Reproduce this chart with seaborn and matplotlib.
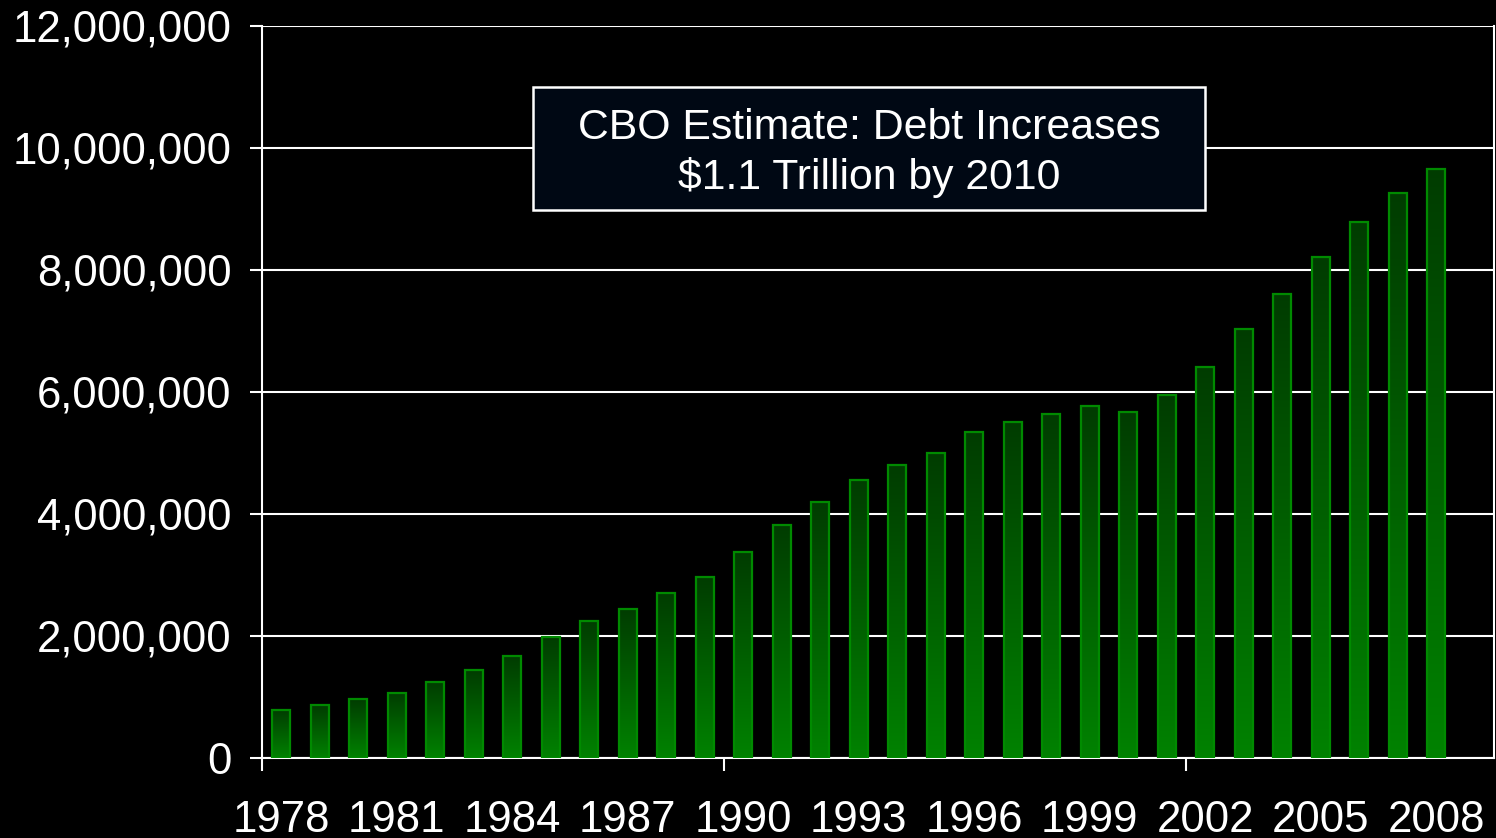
import numpy as np
import pandas as pd
import matplotlib
matplotlib.use("Agg")
import matplotlib.pyplot as plt
import seaborn as sns
from matplotlib.colors import LinearSegmentedColormap
from matplotlib.patches import Rectangle
from matplotlib.ticker import FuncFormatter, FixedLocator

# Gross federal debt by year
years = list(range(1978, 2009))
debt = [
    790000, 864000, 967000, 1066000, 1246000, 1437000, 1672000, 1989000,
    2246000, 2443000, 2705000, 2967000, 3377000, 3820000, 4197000, 4557000,
    4803000, 5000000, 5344000, 5508000, 5639000, 5770000, 5677000, 5950000,
    6415000, 7028000, 7602000, 8208000, 8782000, 9257000, 9650000,
]
# one trailing empty slot on the category axis
slots = [str(y) for y in range(1978, 2010)]
label_years = [str(y) for y in range(1978, 2009, 3)]
note = "CBO Estimate: Debt Increases\n$1.1 Trillion by 2010"

df = pd.DataFrame({"year": [str(y) for y in years], "debt": debt})

sns.set_theme(style="dark")
plt.rcParams["font.family"] = ["Liberation Sans", "DejaVu Sans"]

fig = plt.figure(figsize=(14.96, 8.38), dpi=100, facecolor="black")
ax = fig.add_axes([0.1751, 0.0955, 0.8236, 0.8735])
ax.set_facecolor("black")

sns.barplot(data=df, x="year", y="debt", order=slots, color="#006000",
            width=0.46, linewidth=0, ax=ax, zorder=3)

# vertical green gradient inside each bar, with a bright outline
grad = LinearSegmentedColormap.from_list("g", ["#003c00", "#008200"])
ramp = np.linspace(0, 1, 256).reshape(-1, 1)
for p in list(ax.patches):
    x0, y0 = p.get_x(), p.get_y()
    w, h = p.get_width(), p.get_height()
    if h <= 0:
        continue
    p.set_facecolor("none")
    im = ax.imshow(ramp, cmap=grad, aspect="auto", origin="upper",
                   extent=(x0, x0 + w, y0, y0 + h), zorder=3.5)
    im.set_clip_path(p)
    ax.add_patch(Rectangle((x0, y0), w, h, facecolor="none",
                           edgecolor="#008a00", linewidth=1.6, zorder=4))

ax.set_xlim(-0.5, len(slots) - 0.5)
ax.set_ylim(0, 12000000)
ax.set_yticks(np.arange(0, 12000001, 2000000))
ax.yaxis.set_major_formatter(FuncFormatter(lambda v, _: f"{v:,.0f}"))

label_pos = [slots.index(y) for y in label_years]
ax.xaxis.set_major_locator(FixedLocator(label_pos))
ax.set_xticklabels(label_years)
ax.xaxis.set_minor_locator(FixedLocator([-0.5, 11.5, 23.5]))

ax.tick_params(axis="x", which="major", length=0, pad=30, labelsize=31.5,
               labelcolor="white")
ax.tick_params(axis="x", which="minor", length=9, width=1.5, color="white",
               direction="out", bottom=True)
ax.tick_params(axis="y", length=9, width=1.5, color="white", direction="out",
               left=True, pad=13, labelsize=31.5, labelcolor="white")

ax.grid(False)
ax.yaxis.grid(True, color="white", linewidth=1.5, zorder=1)
ax.set_axisbelow(True)
for side in ["left", "bottom", "right"]:
    ax.spines[side].set_visible(True)
    ax.spines[side].set_color("white")
    ax.spines[side].set_linewidth(1.5)
ax.spines["top"].set_visible(False)
ax.set_xlabel("")
ax.set_ylabel("")

# callout box
ax.add_patch(Rectangle((0.22, 0.7486), 0.5454, 0.1681, transform=ax.transAxes,
                       facecolor="#000814", edgecolor="white", linewidth=1.8,
                       zorder=6))
ax.text(0.4927, 0.8262, note, transform=ax.transAxes, ha="center",
        va="center", color="white", fontsize=30.8, linespacing=1.3,
        zorder=7)

fig.savefig("out.png", dpi=100, facecolor="black")
